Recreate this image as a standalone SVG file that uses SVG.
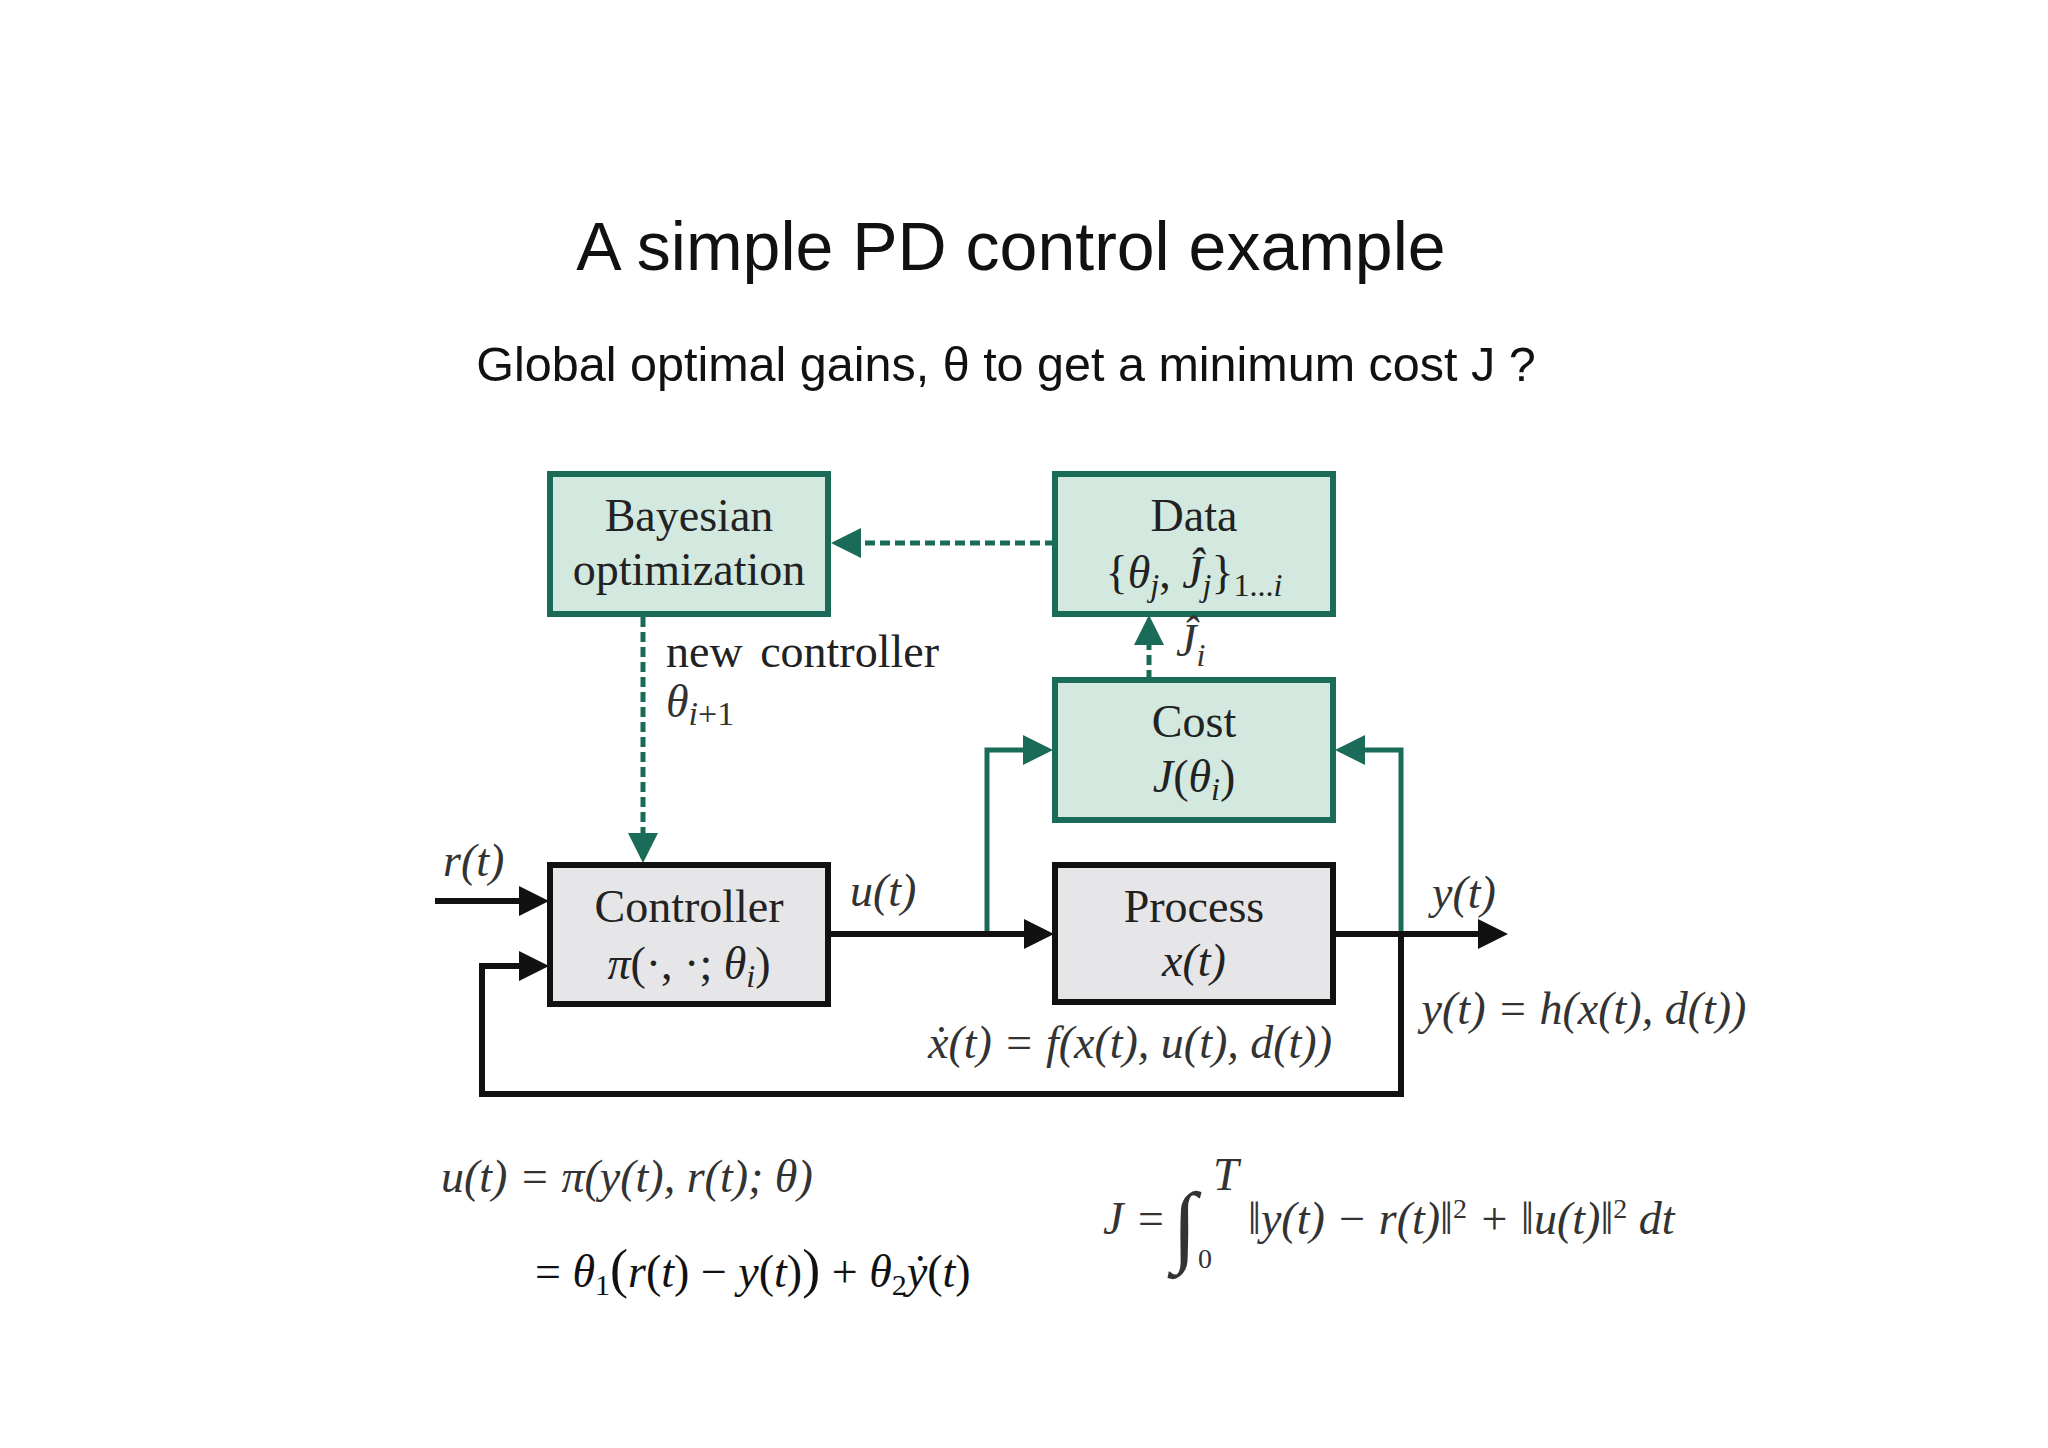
<svg xmlns="http://www.w3.org/2000/svg" width="2048" height="1448" viewBox="0 0 2048 1448">
<style>
.g{fill:#d3e9e0;stroke:#1a6b58;stroke-width:6}
.p{fill:#e6e6e8;stroke:#111;stroke-width:6}
.t{font-family:"Liberation Serif",serif;font-size:46px;fill:#222;text-anchor:middle}
.m{font-family:"Liberation Serif",serif;font-style:italic;font-size:46px;fill:#333}
.n{font-family:"Liberation Serif",serif;font-size:46px;fill:#222}
.gl{fill:none;stroke:#1a6b58;stroke-width:5}
.bl{fill:none;stroke:#111;stroke-width:6}
.d{stroke-dasharray:10 5}
</style>
<defs>
<marker id="ag" markerWidth="6" markerHeight="6" refX="5" refY="3" orient="auto" markerUnits="strokeWidth"><path d="M0,0L6,3L0,6z" fill="#1a6b58"/></marker>
<marker id="ab" markerWidth="5" markerHeight="5" refX="4" refY="2.5" orient="auto" markerUnits="strokeWidth"><path d="M0,0L5,2.5L0,5z" fill="#111"/></marker>
</defs>
<rect width="2048" height="1448" fill="#fff"/>
<text x="1011" y="270" font-family="Liberation Sans,sans-serif" font-size="68" text-anchor="middle" fill="#111">A simple PD control example</text>
<text x="1006" y="381" font-family="Liberation Sans,sans-serif" font-size="48.5" text-anchor="middle" fill="#111">Global optimal gains, θ to get a minimum cost J ?</text>
<g id="connectors">
<path class="gl d" d="M1055,543H836" marker-end="url(#ag)"/>
<path class="gl d" d="M643,617V858" marker-end="url(#ag)"/>
<path class="gl d" d="M1149,680V620" marker-end="url(#ag)"/>
<path class="gl" d="M987,934V750H1048" marker-end="url(#ag)"/>
<path class="gl" d="M1401,934V750H1340" marker-end="url(#ag)"/>
<path class="bl" d="M828,934H1048" marker-end="url(#ab)"/>
<path class="bl" d="M1333,934H1502" marker-end="url(#ab)"/>
<path class="bl" d="M1401,934V1094H482V966H543" marker-end="url(#ab)"/>
<path class="bl" d="M435,901H543" marker-end="url(#ab)"/>
</g>
<g id="bayes"><rect class="g" x="550" y="474" width="278" height="140"/><text class="t" x="689" y="531">Bayesian</text><text class="t" x="689" y="585">optimization</text></g>
<g id="data"><rect class="g" x="1055" y="474" width="278" height="140"/><text class="t" x="1194" y="531">Data</text><text class="t" x="1194" y="588">{<tspan font-style="italic">θ<tspan font-size="32" dy="8">j</tspan></tspan><tspan dy="-8">, </tspan><tspan font-style="italic">Ĵ<tspan font-size="32" dy="8">j</tspan></tspan><tspan dy="-8">}</tspan><tspan font-size="32" dy="8">1...<tspan font-style="italic">i</tspan></tspan></text></g>
<g id="cost"><rect class="g" x="1055" y="680" width="278" height="140"/><text class="t" x="1194" y="737">Cost</text><text class="t" x="1194" y="792"><tspan font-style="italic">J</tspan>(<tspan font-style="italic">θ<tspan font-size="32" dy="8">i</tspan></tspan><tspan dy="-8">)</tspan></text></g>
<g id="controller"><rect class="p" x="550" y="865" width="278" height="139"/><text class="t" x="689" y="922">Controller</text><text class="t" x="689" y="979"><tspan font-style="italic">π</tspan>(·, ·; <tspan font-style="italic">θ<tspan font-size="32" dy="8">i</tspan></tspan><tspan dy="-8">)</tspan></text></g>
<g id="process"><rect class="p" x="1055" y="865" width="278" height="137"/><text class="t" x="1194" y="922">Process</text><text class="t" x="1194" y="976" font-style="italic">x(t)</text></g>
<text class="n" x="666" y="667" word-spacing="6">new controller</text>
<text class="m" x="666" y="717">θ<tspan font-size="34" dy="8"><tspan>i</tspan><tspan style="font-style:normal">+1</tspan></tspan></text>
<text class="m" x="1176" y="656">Ĵ<tspan font-size="32" dy="10">i</tspan></text>
<text class="m" x="443" y="876">r(t)</text>
<text class="m" x="850" y="906">u(t)</text>
<text class="m" x="1432" y="908">y(t)</text>
<text class="m" x="1130" y="1058" text-anchor="middle">ẋ(t) = f(x(t), u(t), d(t))</text>
<text class="m" x="1584" y="1024" text-anchor="middle">y(t) = h(x(t), d(t))</text>
<text class="m" x="441" y="1192">u(t) = π(y(t), r(t); θ)</text>
<text x="535" y="1287" font-family="Liberation Serif,serif" font-size="46" fill="#111">= <tspan font-style="italic">θ</tspan><tspan font-size="30" dy="8">1</tspan><tspan dy="-8" font-size="54">(</tspan><tspan font-style="italic">r</tspan>(<tspan font-style="italic">t</tspan>) − <tspan font-style="italic">y</tspan>(<tspan font-style="italic">t</tspan>)<tspan font-size="54">)</tspan> + <tspan font-style="italic">θ</tspan><tspan font-size="30" dy="8">2</tspan><tspan dy="-8" font-style="italic">ẏ</tspan>(<tspan font-style="italic">t</tspan>)</text>
<text class="m" x="1103" y="1234">J =</text>
<text x="1172" y="1255" font-family="Liberation Serif,serif" font-size="90" fill="#333">∫</text>
<text class="m" x="1213" y="1190" font-size="28">T</text>
<text x="1198" y="1268" font-family="Liberation Serif,serif" font-size="28" fill="#333">0</text>
<text class="m" x="1248" y="1234" font-size="42">‖y(t) − r(t)‖<tspan font-size="28" dy="-16" font-style="normal">2</tspan><tspan dy="16"> + ‖u(t)‖</tspan><tspan font-size="28" dy="-16" font-style="normal">2</tspan><tspan dy="16"> dt</tspan></text>
</svg>
